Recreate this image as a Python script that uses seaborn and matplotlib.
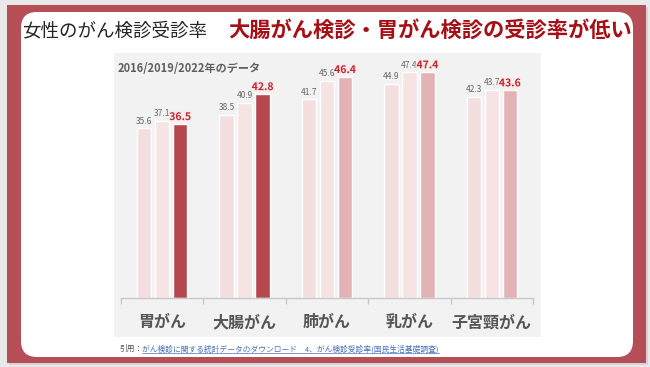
import pandas as pd
import matplotlib.pyplot as plt
import matplotlib.patheffects as pe
import seaborn as sns
from matplotlib.patches import Rectangle, FancyBboxPatch
from matplotlib.lines import Line2D
from matplotlib.transforms import IdentityTransform

# data
categories = ['胃がん', '大腸がん', '肺がん', '乳がん', '子宮頸がん']
years = ['2016', '2019', '2022']
rate_2016 = [35.6, 38.5, 41.7, 44.9, 42.3]
rate_2019 = [37.1, 40.9, 45.6, 47.4, 43.7]
rate_2022 = [36.5, 42.8, 46.4, 47.4, 43.6]
highlight = [True, True, False, False, False]

title_left = '女性のがん検診受診率'
title_right = '大腸がん検診・胃がん検診の受診率が低い'
subtitle = '2016/2019/2022年のデータ'
cite_head = '引用：'
cite_link = 'がん検診に関する統計データのダウンロード　4、がん検診受診率(国民生活基礎調査)'

RED_FRAME = '#b54e57'
C2016 = '#f4dfe0'
C2019 = '#f6e4e4'
C2022 = '#e3b2b5'
C2022_HL = '#b5474f'

W, H = 650, 367


def add_frame(fig):
    # drawn in pixel coords, origin bottom-left
    fig.add_artist(Rectangle((9, H - 365), 639, 358, transform=IdentityTransform(),
                             facecolor='#d4d4d4', edgecolor='none', zorder=0))
    fig.add_artist(Rectangle((7, H - 363), 639, 358, transform=IdentityTransform(),
                             facecolor=RED_FRAME, edgecolor='none', zorder=0))
    fig.add_artist(FancyBboxPatch((21, H - 357), 612, 345, transform=IdentityTransform(),
                                  boxstyle='round,pad=0,rounding_size=16',
                                  facecolor='white', edgecolor='none', zorder=0))
    fig.add_artist(Rectangle((114, H - 337), 427, 284, transform=IdentityTransform(),
                             facecolor='#f2f2f2', edgecolor='none', zorder=0))


def main():
    df = pd.DataFrame({
        '部位': categories * 3,
        '年': [y for y in years for _ in categories],
        '受診率': rate_2016 + rate_2019 + rate_2022,
    })

    sns.set_theme(style='white')
    plt.rcParams['font.family'] = ['Noto Sans CJK JP', 'DejaVu Sans']

    fig = plt.figure(figsize=(W / 100, H / 100), dpi=100, facecolor='#e9e9e9')
    add_frame(fig)

    ax = fig.add_axes([121 / W, 69.5 / H, 412 / W, 237.5 / H])
    ax.set_facecolor('none')
    sns.barplot(data=df, x='部位', y='受診率', hue='年', order=categories, hue_order=years,
                palette=[C2016, C2019, C2022], saturation=1, width=0.655, gap=0.19,
                legend=False, ax=ax)

    for bar, hl in zip(ax.containers[2], highlight):
        bar.set_facecolor(C2022_HL if hl else C2022)

    ax.bar_label(ax.containers[0], fmt='%.1f', padding=2, fontsize=6, color='#666666')
    ax.bar_label(ax.containers[1], fmt='%.1f', padding=2, fontsize=6, color='#666666')
    labs = ax.bar_label(ax.containers[2], fmt='%.1f', padding=1.5, fontsize=7.5,
                        fontweight='bold', color='#c0262d')
    for t in labs:
        t.set_path_effects([pe.withStroke(linewidth=2, foreground='#fbe9e9')])

    ax.set_xlim(-0.5, 4.5)
    ax.set_ylim(0, 50)
    ax.set_yticks([])
    ax.set_xlabel('')
    ax.set_ylabel('')
    for s in ['left', 'top', 'right']:
        ax.spines[s].set_visible(False)
    ax.spines['bottom'].set_color('#c8c8c8')
    ax.spines['bottom'].set_linewidth(1)
    ax.set_xticks([i - 0.5 for i in range(6)], minor=True)
    ax.tick_params(axis='x', which='minor', bottom=True, length=4, width=1,
                   color='#c8c8c8', direction='out')
    ax.tick_params(axis='x', which='major', bottom=False, length=0, pad=12,
                   labelsize=11.5, labelcolor='#555555')
    for t in ax.get_xticklabels():
        t.set_fontweight('bold')

    fig.text(22 / W, 1 - 31 / H, title_left, fontsize=13.3, color='#262626',
             va='center', ha='left')
    fig.text(228 / W, 1 - 31 / H, title_right, fontsize=15.3, color='#a50f15',
             va='center', ha='left', fontweight='bold')
    fig.text(118 / W, 1 - 68 / H, subtitle, fontsize=8, color='#5f5f5f',
             va='center', ha='left', fontweight='bold')

    head = fig.text(119 / W, 1 - 349 / H, cite_head, fontsize=5.6, color='#595959',
                    va='center', ha='left')
    fig.canvas.draw()
    bb = head.get_window_extent()
    link = fig.text(bb.x1 / W, 1 - 349 / H, cite_link, fontsize=5.6, color='#4a72b8',
                    va='center', ha='left')
    fig.canvas.draw()
    lb = link.get_window_extent()
    fig.add_artist(Line2D([lb.x0, lb.x1], [lb.y0 + 0.5, lb.y0 + 0.5],
                          transform=IdentityTransform(), color='#4a72b8', linewidth=0.5))

    fig.savefig('out.png', dpi=100, facecolor=fig.get_facecolor())
    plt.close(fig)


if __name__ == '__main__':
    main()
